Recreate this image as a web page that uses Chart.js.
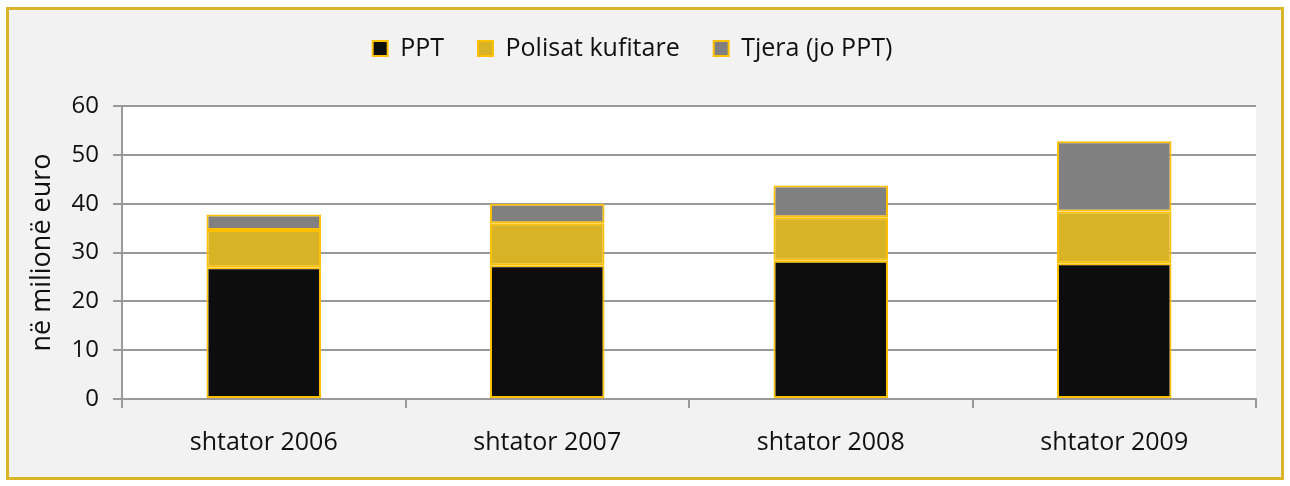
<!DOCTYPE html>
<html>
<head>
<meta charset="utf-8">
<script src="https://cdn.jsdelivr.net/npm/chart.js@4"></script>
<style>
  html, body { margin: 0; padding: 0; background: #ffffff; }
  #frame {
    position: absolute;
    left: 6px;
    top: 7px;
    width: 1272px;
    height: 467px;
    border: 3px solid #d8b628;
    background: #f2f2f2;
  }
  #chart { display: block; }
</style>
</head>
<body>
<div id="frame"><canvas id="chart" width="1272" height="467"></canvas></div>
<script>
const categories = ["shtator 2006", "shtator 2007", "shtator 2008", "shtator 2009"];
const pptValues = [27.0, 27.4, 28.3, 27.8];
const polisatValues = [7.6, 8.6, 8.9, 10.6];
const tjeraValues = [3.2, 4.0, 6.5, 14.4];
const yTicks = [0, 10, 20, 30, 40, 50, 60];

const fontFamily = "'Open Sans', 'Noto Sans', sans-serif";
const gridColor = "#999999";

const plotBackground = {
  id: "plotBackground",
  beforeInit(chart) {
    // leave more room between the legend and the plot
    const fit = chart.legend.fit;
    chart.legend.fit = function () {
      fit.call(this);
      this.height += 35;
    };
  },
  beforeDraw(chart) {
    const { ctx, chartArea } = chart;
    ctx.save();
    ctx.fillStyle = "#ffffff";
    ctx.fillRect(chartArea.left, chartArea.top, chartArea.right - chartArea.left, chartArea.bottom - chartArea.top);
    ctx.restore();
  },
};

const series = [
  { label: "PPT", data: pptValues, color: "#0d0d0d" },
  { label: "Polisat kufitare", data: polisatValues, color: "#d8b325" },
  { label: "Tjera (jo PPT)", data: tjeraValues, color: "#808080" },
];

new Chart(document.getElementById("chart"), {
  type: "bar",
  data: {
    labels: categories,
    datasets: series.map((s) => ({
      label: s.label,
      data: s.data,
      backgroundColor: s.color,
      borderColor: "#ffc000",
      borderWidth: 2,
      borderSkipped: false,
      categoryPercentage: 0.8,
      barPercentage: 0.505,
    })),
  },
  options: {
    responsive: false,
    animation: false,
    layout: { padding: { left: 0, right: 25, top: -8, bottom: -1 } },
    plugins: {
      legend: {
        position: "top",
        labels: {
          color: "#111111",
          font: { family: fontFamily, size: 25 },
          boxWidth: 15,
          boxHeight: 15,
          padding: 34,
        },
      },
      tooltip: { enabled: false },
    },
    scales: {
      x: {
        stacked: true,
        grid: {
          display: true,
          drawOnChartArea: false,
          drawTicks: true,
          tickLength: 9,
          color: gridColor,
          lineWidth: 2,
        },
        border: { color: gridColor, width: 2 },
        ticks: {
          color: "#111111",
          font: { family: fontFamily, size: 25 },
          padding: 20,
        },
      },
      y: {
        stacked: true,
        min: 0,
        max: 60,
        afterBuildTicks: (scale) => {
          scale.ticks = yTicks.map((v) => ({ value: v }));
        },
        afterFit: (scale) => {
          scale.width = 113;
        },
        grid: {
          color: gridColor,
          lineWidth: 2,
          tickLength: 9,
        },
        border: { color: gridColor, width: 2 },
        ticks: {
          color: "#111111",
          font: { family: fontFamily, size: 24 },
          padding: 14,
        },
        title: {
          display: true,
          text: "në milionë euro",
          color: "#111111",
          font: { family: fontFamily, size: 27 },
          padding: { top: 17, bottom: 0 },
        },
      },
    },
  },
  plugins: [plotBackground],
});
</script>
</body>
</html>
